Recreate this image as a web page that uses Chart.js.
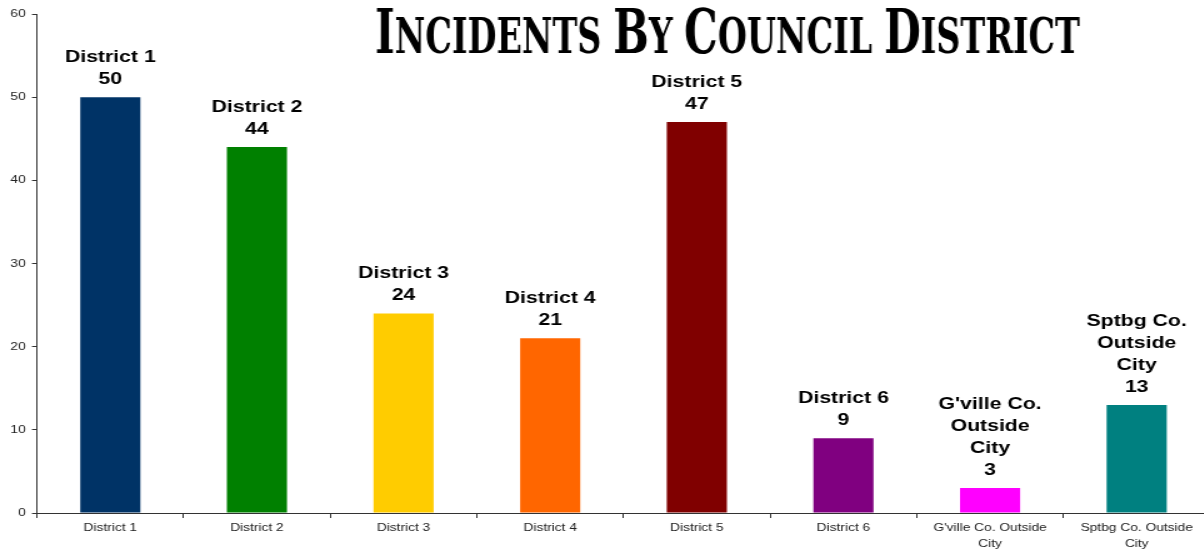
<!DOCTYPE html>
<html>
<head>
<meta charset="utf-8">
<script src="https://cdn.jsdelivr.net/npm/chart.js@4/dist/chart.umd.min.js"></script>
<style>
  html, body { margin: 0; padding: 0; background: #fff; overflow: hidden; }
  #wrap { width: 1204px; height: 550px; overflow: hidden; position: relative; }
  #c { transform: scaleX(1.25); transform-origin: 0 0; display: block; }
</style>
</head>
<body>
<div id="wrap"><canvas id="c" width="968" height="550"></canvas></div>
<script>
const titleText = "Incidents By Council District";
const categories = [
  "District 1", "District 2", "District 3", "District 4",
  "District 5", "District 6", ["G'ville Co. Outside", "City"], ["Sptbg Co. Outside", "City"]
];
const barLabels = [
  ["District 1"], ["District 2"], ["District 3"], ["District 4"],
  ["District 5"], ["District 6"], ["G'ville Co.", "Outside", "City"], ["Sptbg Co.", "Outside", "City"]
];
const values = [50, 44, 24, 21, 47, 9, 3, 13];
const barColors = ["#003366", "#008000", "#FFCC00", "#FF6600", "#800000", "#800080", "#FF00FF", "#008080"];
const yTicks = [0, 10, 20, 30, 40, 50, 60];

const barLabelPlugin = {
  id: 'barLabels',
  afterDatasetsDraw(chart) {
    const ctx = chart.ctx;
    const meta = chart.getDatasetMeta(0);
    ctx.save();
    ctx.font = "bold 17px 'Liberation Sans', Arial, sans-serif";
    ctx.fillStyle = "#000";
    ctx.textAlign = "center";
    ctx.textBaseline = "alphabetic";
    meta.data.forEach((bar, i) => {
      const lines = barLabels[i].concat([String(values[i])]);
      let y = bar.y - 13;
      for (let k = lines.length - 1; k >= 0; k--) {
        ctx.fillText(lines[k], bar.x, y);
        y -= 22;
      }
    });
    ctx.restore();
  }
};

const titlePlugin = {
  id: 'smallCapsTitle',
  afterDraw(chart) {
    const ctx = chart.ctx;
    const big = 62, small = 49;
    const fam = "'DejaVu Serif Condensed', 'DejaVu Serif', serif";
    const words = titleText.split(" ");
    const pieces = [];
    words.forEach((w, wi) => {
      pieces.push({ t: w[0].toUpperCase(), f: "bold " + big + "px " + fam });
      pieces.push({ t: w.slice(1).toUpperCase(), f: "bold " + small + "px " + fam });
      if (wi < words.length - 1) pieces.push({ t: " ", f: "bold " + small + "px " + fam });
    });
    ctx.save();
    let total = 0;
    pieces.forEach(p => { ctx.font = p.f; p.w = ctx.measureText(p.t).width; total += p.w; });
    const x0 = 300, x1 = 864, baseline = 53;
    const sx = (x1 - x0) / total;
    ctx.translate(x0, baseline);
    ctx.scale(sx, 1);
    ctx.fillStyle = "#000";
    ctx.textBaseline = "alphabetic";
    ctx.textAlign = "left";
    let x = 0;
    pieces.forEach(p => { ctx.font = p.f; ctx.fillText(p.t, x, 0); x += p.w; });
    ctx.restore();
  }
};

new Chart(document.getElementById('c'), {
  type: 'bar',
  data: {
    labels: categories,
    datasets: [{
      data: values,
      backgroundColor: barColors,
      borderWidth: 0,
      barPercentage: 0.41,
      categoryPercentage: 1.0
    }]
  },
  options: {
    responsive: false,
    animation: false,
    devicePixelRatio: 1,
    layout: { padding: { top: 14, left: 0, right: 0, bottom: 0 } },
    plugins: { legend: { display: false }, title: { display: false }, tooltip: { enabled: false } },
    scales: {
      x: {
        offset: true,
        grid: { display: true, drawOnChartArea: false, drawTicks: true, tickLength: 5, color: '#333', offset: true },
        border: { display: true, color: '#333', width: 1 },
        ticks: { color: '#222', font: { family: "'Liberation Sans', Arial, sans-serif", size: 11, lineHeight: 1.45 }, padding: 2, maxRotation: 0, autoSkip: false },
        afterFit(scale) { scale.height = 37; }
      },
      y: {
        min: 0, max: 60,
        afterBuildTicks(scale) { scale.ticks = yTicks.map(v => ({ value: v })); },
        grid: { display: true, drawOnChartArea: false, drawTicks: true, tickLength: 4, color: '#333' },
        border: { display: true, color: '#333', width: 1 },
        ticks: { color: '#222', font: { family: "'Liberation Sans', Arial, sans-serif", size: 11 }, padding: 5 },
        afterFit(scale) { scale.width = 29.6; }
      }
    }
  },
  plugins: [barLabelPlugin, titlePlugin]
});
</script>
</body>
</html>
